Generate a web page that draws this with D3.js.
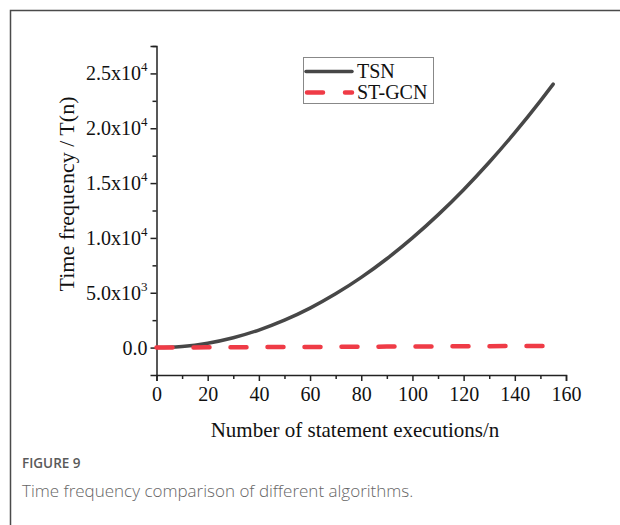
<!DOCTYPE html>
<html>
<head>
<meta charset="utf-8">
<script src="https://cdn.jsdelivr.net/npm/d3@7/dist/d3.min.js"></script>
<style>
  html, body { margin: 0; padding: 0; background: #fff; }
  svg { display: block; }
</style>
</head>
<body>
<script>
// ---- data ----
const nValues = [0, 5, 10, 20, 30, 40, 50, 60, 70, 80, 90, 100, 110, 120, 130, 140, 150, 155];
const tsnValues = [0, 25, 100, 400, 900, 1600, 2500, 3600, 4900, 6400, 8100, 10000, 12100, 14400, 16900, 19600, 22500, 24025];
const stgcnValues = [0, 5, 10, 20, 30, 40, 50, 60, 70, 80, 90, 100, 110, 120, 130, 140, 150, 155];
const seriesNames = ["TSN", "ST-GCN"];
const xTicks = [0, 20, 40, 60, 80, 100, 120, 140, 160];
const yTicks = [0, 5000, 10000, 15000, 20000, 25000];
const yTickMantissa = ["0.0", "5.0", "1.0", "1.5", "2.0", "2.5"];
const yTickExponent = [null, "3", "4", "4", "4", "4"];
const xLabel = "Number of statement executions/n";
const yLabel = "Time frequency / T(n)";
const figureLabel = "FIGURE 9";
const caption = "Time frequency comparison of different algorithms.";

const W = 620, H = 525;
const svg = d3.select("body").append("svg").attr("width", W).attr("height", H);

// frame
svg.append("path").attr("d", `M10.5,${H} V10.5 H${W}`).attr("fill", "none")
  .attr("stroke", "#4a4a4a").attr("stroke-width", 1.5);

const x = d3.scaleLinear().domain([0, 160]).range([156.5, 566]);
const y = d3.scaleLinear().domain([-2500, 27500]).range([375, 46]);

const serif = "'Liberation Serif', 'Times New Roman', serif";
const g = svg.append("g");

// axes
const xAxis = d3.axisBottom(x).tickValues(xTicks).tickSize(6).tickFormat(d => d);
const xMinor = d3.axisBottom(x).tickValues(d3.range(10, 160, 20)).tickSize(4).tickFormat("");
const yAxis = d3.axisLeft(y).tickValues(yTicks).tickSize(6).tickFormat("");
const yMinor = d3.axisLeft(y).tickValues(d3.range(2500, 27501, 5000)).tickSize(4).tickFormat("");

function styleAxis(sel) {
  sel.select(".domain").attr("stroke", "#222").attr("stroke-width", 1.5);
  sel.selectAll(".tick line").attr("stroke", "#222").attr("stroke-width", 1.5);
}
const gx = g.append("g").attr("transform", `translate(0,${y(-2500)})`).call(xAxis);
gx.selectAll(".tick text").attr("font-family", serif).attr("font-size", 20).attr("fill", "#111").attr("dy", "0.85em");
styleAxis(gx);
const gxm = g.append("g").attr("transform", `translate(0,${y(-2500)})`).call(xMinor);
gxm.select(".domain").remove();
gxm.selectAll(".tick line").attr("stroke", "#222").attr("stroke-width", 1.5);

const gy = g.append("g").attr("transform", `translate(${x(0)},0)`).call(yAxis);
styleAxis(gy);
const gym = g.append("g").attr("transform", `translate(${x(0)},0)`).call(yMinor);
gym.select(".domain").remove();
gym.selectAll(".tick line").attr("stroke", "#222").attr("stroke-width", 1.5);

// y tick labels with superscripts
yTicks.forEach((v, i) => {
  const t = g.append("text").attr("x", x(0) - 9).attr("y", y(v) + 7)
    .attr("text-anchor", "end").attr("font-family", serif).attr("font-size", 20).attr("fill", "#111");
  if (yTickExponent[i]) {
    t.append("tspan").text(yTickMantissa[i] + "x10");
    t.append("tspan").attr("font-size", 13).attr("dy", -9).text(yTickExponent[i]);
  } else {
    t.text(yTickMantissa[i]);
  }
});

// axis titles
g.append("text").attr("x", 355).attr("y", 437)
  .attr("text-anchor", "middle").attr("font-family", serif).attr("font-size", 21).attr("fill", "#111").text(xLabel);
g.append("text").attr("transform", `translate(74,194) rotate(-90)`)
  .attr("text-anchor", "middle").attr("font-family", serif).attr("font-size", 22).attr("fill", "#111").text(yLabel);

// lines
const tsnData = nValues.map((n, i) => [n, tsnValues[i]]);
const stData = nValues.map((n, i) => [n, stgcnValues[i]]);
const line = d3.line().x(d => x(d[0])).y(d => y(d[1])).curve(d3.curveMonotoneX);

g.append("path").datum(tsnData).attr("d", line).attr("fill", "none")
  .attr("stroke", "#474747").attr("stroke-width", 3.5).attr("stroke-linecap", "round");
g.append("path").datum(stData).attr("d", line).attr("fill", "none")
  .attr("stroke", "#ef3b46").attr("stroke-width", 4.5).attr("stroke-dasharray", "16,21")
  .attr("stroke-linecap", "round");

// legend
const lg = g.append("g");
lg.append("rect").attr("x", 303.5).attr("y", 57.5).attr("width", 130).attr("height", 46)
  .attr("fill", "#fff").attr("stroke", "#888").attr("stroke-width", 1);
lg.append("line").attr("x1", 306).attr("x2", 352).attr("y1", 71.5).attr("y2", 71.5)
  .attr("stroke", "#474747").attr("stroke-width", 3.5).attr("stroke-linecap", "round");
lg.append("line").attr("x1", 307).attr("x2", 352).attr("y1", 92.5).attr("y2", 92.5)
  .attr("stroke", "#ef3b46").attr("stroke-width", 4.5).attr("stroke-dasharray", "16,22")
  .attr("stroke-linecap", "round");
lg.append("text").attr("x", 357).attr("y", 78).attr("font-family", serif).attr("font-size", 20).attr("fill", "#111").text(seriesNames[0]);
lg.append("text").attr("x", 357).attr("y", 99).attr("font-family", serif).attr("font-size", 20).attr("fill", "#111").text(seriesNames[1]);

// caption
svg.append("text").attr("x", 22).attr("y", 468).attr("font-family", "'Open Sans', sans-serif")
  .attr("font-size", 13.5).attr("font-weight", 600).attr("fill", "#5a5a5a").text(figureLabel);
svg.append("text").attr("x", 22).attr("y", 497).attr("font-family", "'Open Sans', sans-serif")
  .attr("font-size", 17).attr("font-weight", 300).attr("fill", "#666").text(caption);
</script>
</body>
</html>
